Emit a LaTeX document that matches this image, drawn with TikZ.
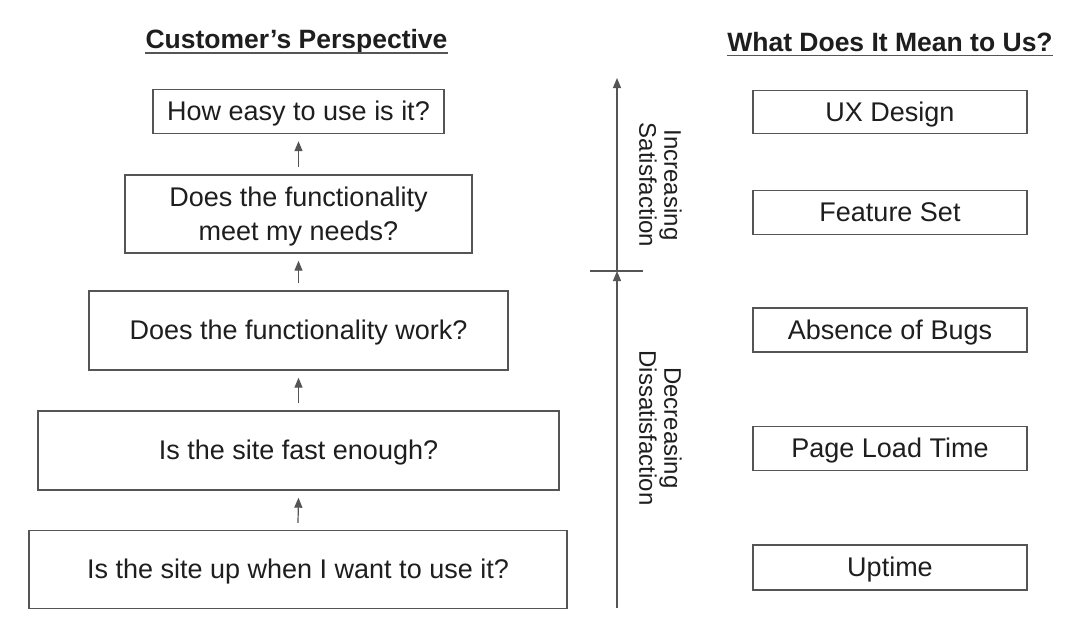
\documentclass[tikz,border=0pt]{standalone}
\usepackage{fontspec}
\setmainfont{Liberation Sans}
\usetikzlibrary{arrows.meta}
\definecolor{ink}{HTML}{1E1E1E}
\definecolor{edge}{HTML}{555555}
\tikzset{
  box/.style={draw=edge, line width=1.4pt, inner sep=0pt, text=ink, align=center,
    font=\fontsize{27}{34}\selectfont, text depth=1pt},
  hdr/.style={inner sep=0pt, text=ink, font=\fontsize{26.5}{30}\selectfont\bfseries},
  lbl/.style={inner sep=0pt, text=ink, align=center, rotate=-90, font=\fontsize{24}{25}\selectfont},
  arr/.style={draw=edge, line width=1.2pt, -{Triangle[length=10pt,width=8pt]}},
  ln/.style={draw=edge, line width=1.2pt},
}
\begin{document}
\begin{tikzpicture}[x=1pt,y=-1pt]
\useasboundingbox[fill=white] (0,0) rectangle (1082,624);
% headers
\node[hdr] (h1) at (296.5,42) {Customer’s Perspective};
\node[hdr] (h2) at (890,42) {What Does It Mean to Us?};
\draw[ln, line width=1.5pt] ([yshift=-4pt]h1.base west) -- ([yshift=-4pt]h1.base east);
\draw[ln, line width=1.5pt] ([yshift=-4pt]h2.base west) -- ([yshift=-4pt]h2.base east);
% left boxes
\node[box, minimum width=291pt, minimum height=44pt] (b1) at (298.5,111.5) {How easy to use is it?};
\node[box, minimum width=347pt, minimum height=78pt] (b2) at (298.5,214) {Does the functionality\\meet my needs?};
\node[box, minimum width=419pt, minimum height=79pt] (b3) at (298.5,330.5) {Does the functionality work?};
\node[box, minimum width=521pt, minimum height=79pt] (b4) at (298.5,450.5) {Is the site fast enough?};
\node[box, minimum width=538pt, minimum height=78pt] (b5) at (298,569.5) {Is the site up when I want to use it?};
% arrows between boxes
\draw[arr] ([yshift=7pt]b2.north) -- ([yshift=-7pt]b1.south);
\draw[arr] ([yshift=7pt]b3.north) -- ([yshift=-7pt]b2.south);
\draw[arr] ([yshift=7pt]b4.north) -- ([yshift=-7pt]b3.south);
\draw[arr] ([yshift=7pt]b5.north) -- ([yshift=-7pt]b4.south);
% right boxes
\node[box, minimum width=274pt, minimum height=43pt] (r1) at (890,112) {UX Design};
\node[box, minimum width=274pt, minimum height=44pt] (r2) at (890,212.5) {Feature Set};
\node[box, minimum width=274pt, minimum height=44pt] (r3) at (890,330) {Absence of Bugs};
\node[box, minimum width=274pt, minimum height=44pt] (r4) at (890,448.5) {Page Load Time};
\node[box, minimum width=274pt, minimum height=45pt] (r5) at (890,567.5) {Uptime};
% axis
\coordinate (ab) at (617,608);
\coordinate (am) at (617,271);
\coordinate (at) at (617,78);
\coordinate (tl) at (590,271);
\coordinate (tr) at (643,271);
\draw[arr] (ab) -- (am);
\draw[arr] (am) -- (at);
\draw[ln] (tl) -- (tr);
\node[lbl] (l1) at (660.5,185) {Increasing\\Satisfaction};
\node[lbl] (l2) at (660.5,428) {Decreasing\\Dissatisfaction};
\end{tikzpicture}
\end{document}
